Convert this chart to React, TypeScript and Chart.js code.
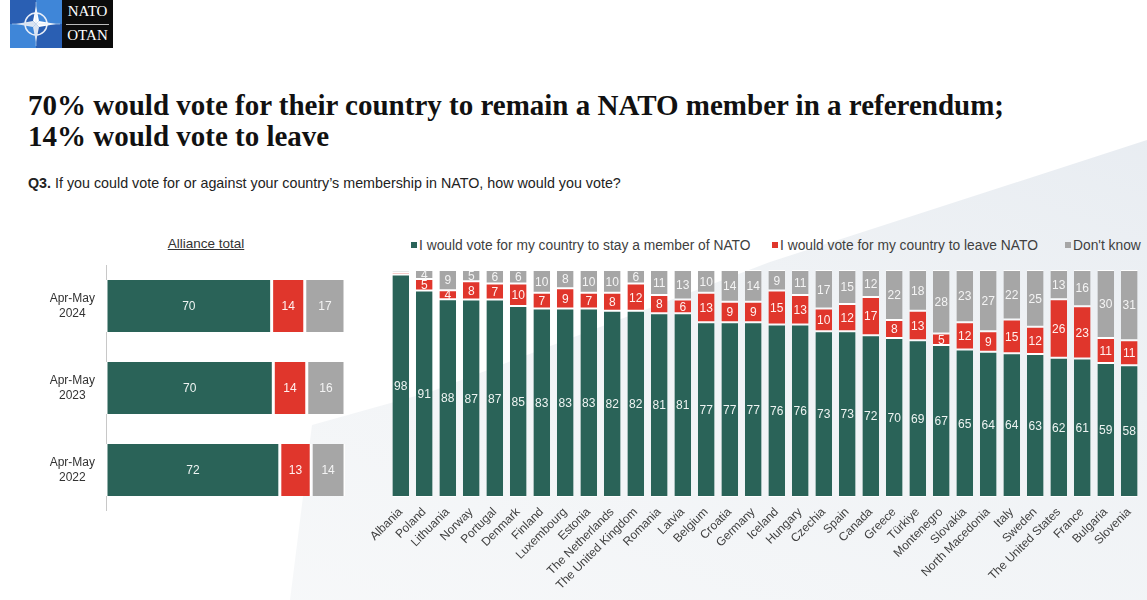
import React, { useEffect, useRef } from 'react';
import { Chart, registerables } from 'chart.js';

Chart.register(...registerables);

const GREEN = '#2a6358';
const RED = '#e0362c';
const GREY = '#a6a6a6';

const countries = [
  'Albania', 'Poland', 'Lithuania', 'Norway', 'Portugal', 'Denmark', 'Finland', 'Luxembourg',
  'Estonia', 'The Netherlands', 'The United Kingdom', 'Romania', 'Latvia', 'Belgium', 'Croatia',
  'Germany', 'Iceland', 'Hungary', 'Czechia', 'Spain', 'Canada', 'Greece', 'Türkiye',
  'Montenegro', 'Slovakia', 'North Macedonia', 'Italy', 'Sweden', 'The United States', 'France',
  'Bulgaria', 'Slovenia',
];
const stayValues = [98, 91, 88, 87, 87, 85, 83, 83, 83, 82, 82, 81, 81, 77, 77, 77, 76, 76, 73, 73, 72, 70, 69, 67, 65, 64, 64, 63, 62, 61, 59, 58];
const leaveValues = [1, 5, 4, 8, 7, 10, 7, 9, 7, 8, 12, 8, 6, 13, 9, 9, 15, 13, 10, 12, 17, 8, 13, 5, 12, 9, 15, 12, 26, 23, 11, 11];
const dontKnowValues = [1, 4, 9, 5, 6, 6, 10, 8, 10, 10, 6, 11, 13, 10, 14, 14, 9, 11, 17, 15, 12, 22, 18, 28, 23, 27, 22, 25, 13, 16, 30, 31];

const allianceLabels = [['Apr-May', '2024'], ['Apr-May', '2023'], ['Apr-May', '2022']];
const allianceStay = [70, 70, 72];
const allianceLeave = [14, 14, 13];
const allianceDontKnow = [17, 16, 14];

const legendLabels = [
  'I would vote for my country to stay a member of NATO',
  'I would vote for my country to leave NATO',
  "Don't know",
];

// share of each answer within its bar (bars are drawn as 100% stacks)
function share(part: number[], a: number[], b: number[], c: number[]) {
  return part.map((v, i) => (v / (a[i] + b[i] + c[i])) * 100);
}

const valueLabelPlugin = {
  id: 'valueLabels',
  afterDatasetsDraw(chart: any, _args: any, opts: any) {
    const ctx = chart.ctx;
    ctx.save();
    ctx.font = `${opts.size || 11}px "Liberation Sans", Arial, sans-serif`;
    ctx.textAlign = 'center';
    ctx.textBaseline = 'middle';
    chart.data.datasets.forEach((ds: any, di: number) => {
      const meta = chart.getDatasetMeta(di);
      meta.data.forEach((el: any, i: number) => {
        const v = ds.rawValues[i];
        if (v < 3) return;
        const p = el.getCenterPoint();
        ctx.fillStyle = ds.labelColor;
        ctx.fillText(String(v), p.x, p.y + 1);
      });
    });
    ctx.restore();
  },
};

const FONT = '"Liberation Sans", Arial, sans-serif';

function CountryChart() {
  const ref = useRef<HTMLCanvasElement>(null);
  useEffect(() => {
    const a = stayValues, b = leaveValues, c = dontKnowValues;
    const common = { borderColor: '#ffffff', borderWidth: { top: 1, bottom: 1, left: 0, right: 0 }, borderSkipped: false, barPercentage: 0.71, categoryPercentage: 1 };
    const chart = new Chart(ref.current!, {
      type: 'bar',
      data: {
        labels: countries,
        datasets: [
          { ...common, label: legendLabels[0], data: share(a, a, b, c), rawValues: a, labelColor: '#eef4f2', backgroundColor: GREEN } as any,
          { ...common, label: legendLabels[1], data: share(b, a, b, c), rawValues: b, labelColor: '#fff1ef', backgroundColor: RED } as any,
          { ...common, label: legendLabels[2], data: share(c, a, b, c), rawValues: c, labelColor: '#f4f4f4', backgroundColor: GREY } as any,
        ],
      },
      options: {
        animation: false,
        responsive: true,
        maintainAspectRatio: false,
        layout: { padding: { left: 29, right: 6, top: 5, bottom: 0 } },
        plugins: { legend: { display: false }, tooltip: { enabled: false }, valueLabels: { size: 12 } } as any,
        scales: {
          x: {
            stacked: true,
            grid: { display: false, drawTicks: false },
            border: { display: false },
            ticks: { minRotation: 45, maxRotation: 45, autoSkip: false, padding: 8, color: '#404040', font: { family: FONT, size: 12 } },
            afterFit: (s: any) => { s.height = 103; s.paddingLeft = 0; s.paddingRight = 0; },
          },
          y: { stacked: true, display: false, min: 0, max: 100 },
        },
      },
      plugins: [valueLabelPlugin],
    });
    return () => chart.destroy();
  }, []);
  return (
    <div style={{ position: 'absolute', left: 360, top: 265, width: 787, height: 335 }}>
      <canvas ref={ref} />
    </div>
  );
}

function AllianceChart() {
  const ref = useRef<HTMLCanvasElement>(null);
  useEffect(() => {
    const a = allianceStay, b = allianceLeave, c = allianceDontKnow;
    const common = { borderColor: '#ffffff', borderWidth: { top: 0, bottom: 0, left: 1.5, right: 1.5 }, borderSkipped: false, barPercentage: 0.634, categoryPercentage: 1 };
    const chart = new Chart(ref.current!, {
      type: 'bar',
      data: {
        labels: allianceLabels,
        datasets: [
          { ...common, label: legendLabels[0], data: share(a, a, b, c), rawValues: a, labelColor: '#eef4f2', backgroundColor: GREEN } as any,
          { ...common, label: legendLabels[1], data: share(b, a, b, c), rawValues: b, labelColor: '#fff1ef', backgroundColor: RED } as any,
          { ...common, label: legendLabels[2], data: share(c, a, b, c), rawValues: c, labelColor: '#f4f4f4', backgroundColor: GREY } as any,
        ],
      },
      options: {
        indexAxis: 'y',
        animation: false,
        responsive: true,
        maintainAspectRatio: false,
        layout: { padding: 0 },
        plugins: { legend: { display: false }, tooltip: { enabled: false }, valueLabels: { size: 12 } } as any,
        scales: {
          x: { stacked: true, display: false, min: 0, max: 100 },
          y: {
            stacked: true,
            grid: { display: false, drawTicks: false },
            border: { display: true, color: '#c8c8c8', width: 1 },
            ticks: { crossAlign: 'center', padding: 11, color: '#333333', font: { family: FONT, size: 12, lineHeight: 1.25 } },
            afterFit: (s: any) => { s.width = 66; s.paddingTop = 0; s.paddingBottom = 0; },
          },
        },
      },
      plugins: [valueLabelPlugin],
    });
    return () => chart.destroy();
  }, []);
  return (
    <div style={{ position: 'absolute', left: 40, top: 265, width: 305, height: 246 }}>
      <canvas ref={ref} />
    </div>
  );
}

function Logo() {
  return (
    <div style={{ position: 'absolute', left: 10, top: 0, width: 103, height: 48, display: 'flex' }}>
      <div style={{ width: 52, height: 48, background: '#2f6fc4', position: 'relative' }}>
        <svg width="52" height="48" viewBox="0 0 52 48">
          <rect x="0" y="0" width="26" height="24" fill="#2a5fb3" />
          <rect x="26" y="24" width="26" height="24" fill="#2a5fb3" />
          <rect x="26" y="0" width="26" height="24" fill="#3f86d8" />
          <rect x="0" y="24" width="26" height="24" fill="#3f86d8" />
          <circle cx="26" cy="24" r="11" fill="none" stroke="#e8eef8" strokeWidth="1.5" />
          <polygon points="26,6 29,21 26,24 23,21" fill="#ffffff" />
          <polygon points="26,42 29,27 26,24 23,27" fill="#dfe7f3" />
          <polygon points="6,24 23,21 26,24 23,27" fill="#dfe7f3" />
          <polygon points="46,24 29,21 26,24 29,27" fill="#ffffff" />
          <line x1="2" y1="24" x2="50" y2="24" stroke="#cfdcf0" strokeWidth="0.6" />
          <line x1="26" y1="2" x2="26" y2="46" stroke="#cfdcf0" strokeWidth="0.6" />
        </svg>
      </div>
      <div style={{ width: 51, height: 48, background: '#0b0b0b', color: '#fff', fontFamily: '"Liberation Serif", "Times New Roman", serif', fontSize: 15, textAlign: 'center', position: 'relative' }}>
        <div style={{ position: 'absolute', top: 3, left: 0, right: 0 }}>NATO</div>
        <div style={{ position: 'absolute', top: 24, left: 4, right: 4, borderTop: '1px solid #bbb' }} />
        <div style={{ position: 'absolute', top: 27, left: 0, right: 0 }}>OTAN</div>
      </div>
    </div>
  );
}

function LegendItem({ x, color, text }: { x: number; color: string; text: string }) {
  return (
    <div style={{ position: 'absolute', left: x, top: 237, height: 16, display: 'flex', alignItems: 'center', fontFamily: FONT, fontSize: 13.8, color: '#404040', whiteSpace: 'nowrap' }}>
      <span style={{ display: 'inline-block', width: 6, height: 6, background: color, marginRight: 2 }} />
      <span>{text}</span>
    </div>
  );
}

export default function App() {
  return (
    <div style={{ position: 'fixed', left: 0, top: 0, width: 1147, height: 600, background: '#ffffff', overflow: 'hidden' }}>
      <div
        style={{
          position: 'absolute', left: 0, top: 0, width: 1147, height: 600,
          background: 'linear-gradient(200deg, #e5eaf0 0%, #eff2f5 40%, #f8f9fa 100%)',
          clipPath: 'polygon(290px 600px, 312px 425px, 430px 392px, 770px 262px, 1147px 140px, 1147px 600px)',
        }}
      />
      <Logo />
      <div style={{ position: 'absolute', left: 28, top: 90, fontFamily: '"Liberation Serif", "Times New Roman", serif', fontWeight: 'bold', fontSize: 29, lineHeight: '31px', color: '#111111', whiteSpace: 'nowrap' }}>
        <div>70% would vote for their country to remain a NATO member in a referendum;</div>
        <div>14% would vote to leave</div>
      </div>
      <div style={{ position: 'absolute', left: 28, top: 175, fontFamily: FONT, fontSize: 14.3, color: '#222222', whiteSpace: 'nowrap' }}>
        <b>Q3.</b> If you could vote for or against your country’s membership in NATO, how would you vote?
      </div>
      <div style={{ position: 'absolute', left: 106, width: 200, top: 236, textAlign: 'center', fontFamily: FONT, fontSize: 13.5, color: '#333333', textDecoration: 'underline' }}>
        Alliance total
      </div>
      <LegendItem x={411} color={GREEN} text={legendLabels[0]} />
      <LegendItem x={772} color={RED} text={legendLabels[1]} />
      <LegendItem x={1065} color={GREY} text={legendLabels[2]} />
      <AllianceChart />
      <CountryChart />
    </div>
  );
}
